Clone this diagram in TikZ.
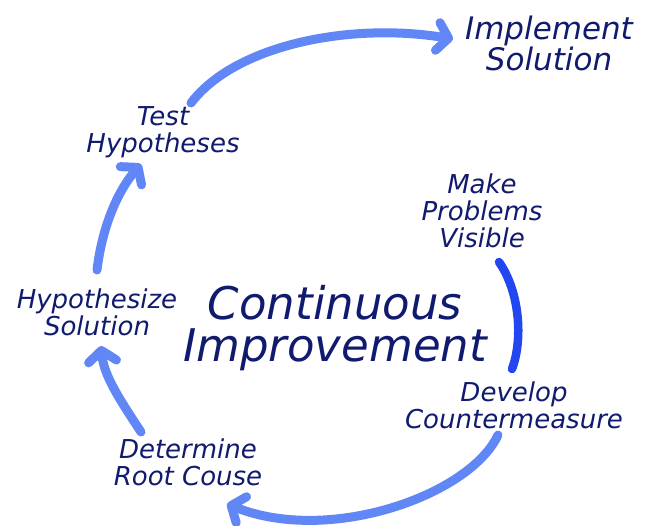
\documentclass[tikz,border=0pt]{standalone}
\usepackage{fontspec}
\usepackage{tikz}
\usetikzlibrary{arrows.meta}
\newfontfamily\handFont{DejaVu Sans}
\definecolor{textColor}{RGB}{16,26,110}
\definecolor{arcColor}{RGB}{96,135,245}
\definecolor{arcStrong}{RGB}{34,70,240}
\tikzstyle{cycle} = [x = 1pt, y = -1pt]
\tikzstyle{stepLabel} = [text=textColor, align=center, inner sep=0pt, font=\handFont\itshape\fontsize{26}{27}\selectfont]
\tikzstyle{bigStepLabel} = [stepLabel, font=\handFont\itshape\fontsize{31}{30}\selectfont]
\tikzstyle{titleLabel} = [stepLabel, font=\handFont\itshape\fontsize{45}{42}\selectfont]
\tikzstyle{cycleArc} = [color=arcColor, line width=9pt, line cap=round, -{Straight Barb[length=11pt, width=28pt, round]}]
\tikzstyle{plainArc} = [color=arcStrong, line width=8.5pt, line cap=round]

\begin{document}
\begin{tikzpicture}[cycle]
  \useasboundingbox (0,0) rectangle (647,525);
  % labels round the cycle
  \node [bigStepLabel] (implement) at (549,43) {Implement\\Solution};
  \node [stepLabel] (test) at (163,132) {Test\\Hypotheses};
  \node [stepLabel] (make) at (482,211) {Make\\Problems\\Visible};
  \node [stepLabel] (hypothesize) at (97,312) {Hypothesize\\Solution};
  \node [titleLabel] (title) at (335,328) {Continuous\\Improvement};
  \node [stepLabel] (develop) at (514,405) {Develop\\Countermeasure};
  \node [stepLabel] (determine) at (188,462) {Determine\\Root Couse};
  % arc ends
  \coordinate (testOut) at (191,103);
  \coordinate (implementIn) at (453,39);
  \coordinate (hypothesizeOut) at (97,270);
  \coordinate (testIn) at (141,164);
  \coordinate (determineOut) at (141,432);
  \coordinate (hypothesizeIn) at (101,346);
  \coordinate (developOut) at (498,435);
  \coordinate (determineIn) at (227,504);
  \coordinate (makeOut) at (499,262);
  \coordinate (developIn) at (512,369);
  % arrows
  \draw [cycleArc] (testOut) .. controls (235,45) and (350,22) .. (implementIn);
  \draw [cycleArc] (hypothesizeOut) .. controls (102,228) and (117,192) .. (testIn);
  \draw [cycleArc] (determineOut) .. controls (120,400) and (104,376) .. (hypothesizeIn);
  \draw [cycleArc] (developOut) .. controls (470,495) and (330,545) .. (determineIn);
  \draw [plainArc] (makeOut) .. controls (520,292) and (523,340) .. (developIn);
\end{tikzpicture}
\end{document}
